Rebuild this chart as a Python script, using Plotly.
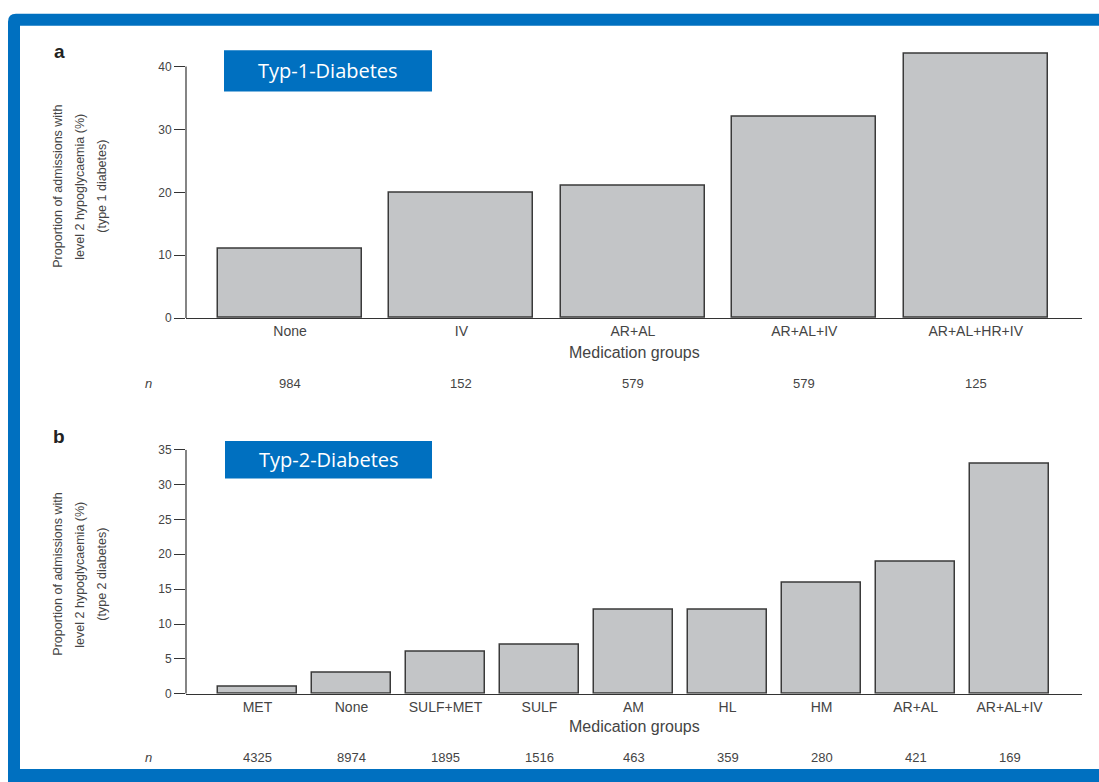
import plotly.graph_objects as go

# ---- data -------------------------------------------------------------
groups_t1 = ["None", "IV", "AR+AL", "AR+AL+IV", "AR+AL+HR+IV"]
pct_t1 = [11, 20, 21, 32, 42]
n_t1 = [984, 152, 579, 579, 125]

groups_t2 = ["MET", "None", "SULF+MET", "SULF", "AM", "HL", "HM", "AR+AL", "AR+AL+IV"]
pct_t2 = [1, 3, 6, 7, 12, 12, 16, 19, 33]
n_t2 = [4325, 8974, 1895, 1516, 463, 359, 280, 421, 169]

ticks_t1 = [0, 10, 20, 30, 40]
ticks_t2 = [0, 5, 10, 15, 20, 25, 30, 35]

# ---- page geometry (pixels) -------------------------------------------
W, H = 1099, 782


def px(x):
    return x / W


def py(y):
    return 1 - y / H


FONT = "Liberation Sans, Arial, sans-serif"
TXT = "#444444"
AXC = "#333333"
BLUE = "#0070C0"
BAR_FILL = "#c3c5c7"
BAR_LINE = "#3a3a3a"

fig = go.Figure()

fig.add_trace(go.Bar(
    x=groups_t1, y=pct_t1, width=0.84, xaxis="x", yaxis="y",
    marker=dict(color=BAR_FILL, line=dict(color=BAR_LINE, width=1.5)),
    showlegend=False, hoverinfo="x+y",
))
fig.add_trace(go.Bar(
    x=groups_t2, y=pct_t2, width=0.84, xaxis="x2", yaxis="y2",
    marker=dict(color=BAR_FILL, line=dict(color=BAR_LINE, width=1.5)),
    showlegend=False, hoverinfo="x+y",
))

xdom = [px(186), px(1082)]
xcommon = dict(type="category", showgrid=False, zeroline=False, showline=True,
               linecolor=AXC, linewidth=1.2, ticks="", fixedrange=True,
               tickfont=dict(family=FONT, size=14, color=TXT))
ycommon = dict(showgrid=False, zeroline=False, showline=False, ticks="outside",
               ticklen=11, tickwidth=1.2, tickcolor=AXC, fixedrange=True,
               tickfont=dict(family=FONT, size=12, color=TXT))

fig.update_layout(
    width=W, height=H, autosize=False,
    margin=dict(l=0, r=0, t=0, b=0),
    paper_bgcolor="white", plot_bgcolor="rgba(0,0,0,0)",
    bargap=0,
    xaxis=dict(xcommon, domain=xdom, anchor="y", range=[-0.607, 4.62]),
    yaxis=dict(ycommon, domain=[py(316.7), py(41.5)], anchor="x",
               range=[0, 43], tickvals=ticks_t1),
    xaxis2=dict(xcommon, domain=xdom, anchor="y2", range=[-0.76, 8.77]),
    yaxis2=dict(ycommon, domain=[py(699.3), py(450.7)], anchor="x2",
                range=[0, 35], tickvals=ticks_t2),
)

shapes = []
# blue frame around the slide
shapes.append(dict(type="path", xref="paper", yref="paper", layer="below",
                   path=f"M {px(8)} {py(782 + 10)} L {px(8)} {py(15)} "
                        f"Q {px(8)} {py(7)} {px(16)} {py(7)} "
                        f"L {px(W + 10)} {py(7)} L {px(W + 10)} {py(782 + 10)} Z",
                   fillcolor=BLUE, line=dict(width=0)))
shapes.append(dict(type="rect", xref="paper", yref="paper", layer="below",
                   x0=px(20), x1=px(W + 10), y0=py(776), y1=py(19),
                   fillcolor="white", line=dict(width=0)))
# vertical axis lines (panel a stops at the top tick)
shapes.append(dict(type="line", xref="paper", yref="y", x0=px(186), x1=px(186),
                   y0=0, y1=ticks_t1[-1], line=dict(color=AXC, width=1.2)))
shapes.append(dict(type="line", xref="paper", yref="y2", x0=px(186), x1=px(186),
                   y0=0, y1=ticks_t2[-1], line=dict(color=AXC, width=1.2)))
# title boxes
shapes.append(dict(type="rect", xref="paper", yref="paper",
                   x0=px(224), x1=px(432), y0=py(86), y1=py(44),
                   fillcolor=BLUE, line=dict(width=0)))
shapes.append(dict(type="rect", xref="paper", yref="paper",
                   x0=px(225), x1=px(432), y0=py(480), y1=py(442),
                   fillcolor=BLUE, line=dict(width=0)))

ann = []


def text(x, y, s, size=13, color=TXT, family=FONT, angle=0, xref="paper", **kw):
    ann.append(dict(x=x, y=y, xref=xref, yref="paper", text=s, showarrow=False,
                    textangle=angle, font=dict(family=family, size=size, color=color),
                    xanchor="center", yanchor="middle", **kw))


# panel letters
text(px(59), py(45), "<b>a</b>", size=19, color="#222222")
text(px(59), py(437), "<b>b</b>", size=19, color="#222222")

# title box captions
text(px(328), py(65), "Typ-1-Diabetes", size=20, color="white", family="Open Sans, sans-serif")
text(px(328.5), py(461), "Typ-2-Diabetes", size=20, color="white", family="Open Sans, sans-serif")

# y-axis titles (three stacked lines each)
ylines_a = ["Proportion of admissions with", "level 2 hypoglycaemia (%)", "(type 1 diabetes)"]
ylines_b = ["Proportion of admissions with", "level 2 hypoglycaemia (%)", "(type 2 diabetes)"]
for xp, s in zip([58, 80, 102], ylines_a):
    text(px(xp), py(183), s, size=12.5, angle=-90)
for xp, s in zip([58, 80, 102], ylines_b):
    text(px(xp), py(578), s, size=12.5, angle=-90)

# x-axis titles
text(px(634), py(352), "Medication groups", size=16)
text(px(634), py(733), "Medication groups", size=16)

# sample sizes
text(px(148), py(383), "<i>n</i>", size=13)
text(px(148), py(764), "<i>n</i>", size=13)
for g, n in zip(groups_t1, n_t1):
    ann.append(dict(x=g, y=py(383), xref="x", yref="paper", text=str(n), showarrow=False,
                    font=dict(family=FONT, size=13, color=TXT), yanchor="middle"))
for g, n in zip(groups_t2, n_t2):
    ann.append(dict(x=g, y=py(764), xref="x2", yref="paper", text=str(n), showarrow=False,
                    font=dict(family=FONT, size=13, color=TXT), yanchor="middle"))

fig.update_layout(shapes=shapes, annotations=ann)

fig.write_html("out.html")
